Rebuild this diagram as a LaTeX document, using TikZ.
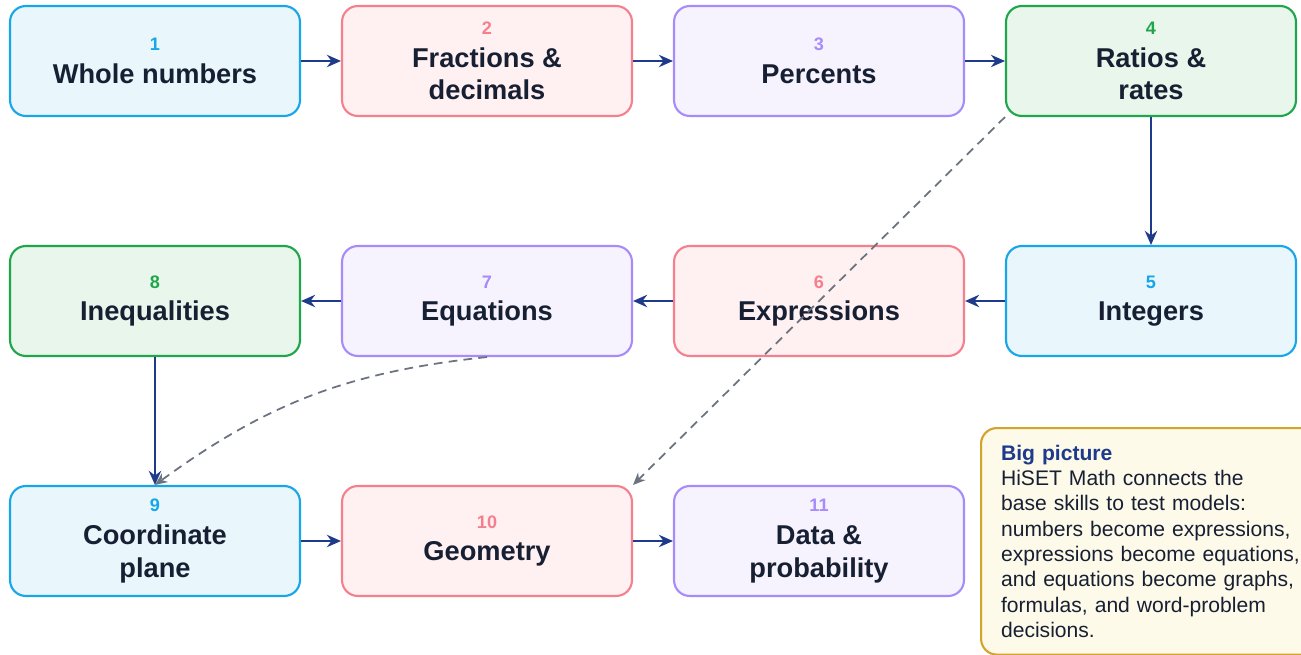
\documentclass[tikz,border=0pt]{standalone}
\usepackage{fontspec}
\setmainfont{Liberation Sans}
\usetikzlibrary{arrows.meta}
\definecolor{ink}{HTML}{172033}
\definecolor{navy}{HTML}{1E3A8A}
\definecolor{hintgray}{HTML}{6B7280}
\definecolor{skyline}{HTML}{17A6E8}
\definecolor{skyfill}{HTML}{E9F6FC}
\definecolor{roseline}{HTML}{F67F8D}
\definecolor{rosefill}{HTML}{FFF0F2}
\definecolor{violetline}{HTML}{A78BFA}
\definecolor{violetfill}{HTML}{F6F3FF}
\definecolor{greenline}{HTML}{1FA64B}
\definecolor{greenfill}{HTML}{E8F6EC}
\definecolor{goldline}{HTML}{D4A32A}
\definecolor{goldfill}{HTML}{FEFAEA}
\newcommand{\stepnum}[2]{\textcolor{#1line}{\fontsize{10.3}{12}\selectfont #2}}

\begin{document}
\begin{tikzpicture}[x=0.02cm, y=-0.02cm,
  box/.style={draw=#1line, fill=#1fill, line width=1.2pt, rounded corners=9pt,
    minimum width=5.8cm, minimum height=2.2cm, align=center, text=ink,
    font=\fontsize{15.5}{18.6}\selectfont\bfseries},
  flow/.style={draw=navy, line width=1.5pt, -{Stealth[length=8pt,width=7pt]}},
  sidelink/.style={draw=hintgray, line width=1pt, dash pattern=on 5pt off 3.5pt,
    -{Stealth[length=7pt,width=6pt]}},
  note/.style={draw=goldline, fill=goldfill, line width=1.2pt, rounded corners=9pt,
    align=left, text=ink, text width=6.3cm, inner xsep=0.4cm, inner ysep=0.34cm,
    font=\fontsize{12}{14.4}\selectfont}]
  \useasboundingbox (0,0) rectangle (1301,655);
  \clip (0,0) rectangle (1301,655);
  % row 1
  \node[box=sky]    (1) at (155,61)  {\stepnum{sky}{1}\\Whole numbers};
  \node[box=rose]   (2) at (487,61)  {\stepnum{rose}{2}\\Fractions \&\\decimals};
  \node[box=violet] (3) at (819,61)  {\stepnum{violet}{3}\\Percents};
  \node[box=green]  (4) at (1151,61) {\stepnum{green}{4}\\Ratios \&\\rates};
  % row 2
  \node[box=sky]    (5) at (1151,301) {\stepnum{sky}{5}\\Integers};
  \node[box=rose]   (6) at (819,301)  {\stepnum{rose}{6}\\Expressions};
  \node[box=violet] (7) at (487,301)  {\stepnum{violet}{7}\\Equations};
  \node[box=green]  (8) at (155,301)  {\stepnum{green}{8}\\Inequalities};
  % row 3
  \node[box=sky]    (9) at (155,541)  {\stepnum{sky}{9}\\Coordinate\\plane};
  \node[box=rose]   (10) at (487,541) {\stepnum{rose}{10}\\Geometry};
  \node[box=violet] (11) at (819,541) {\stepnum{violet}{11}\\Data \&\\probability};
  \node[note, anchor=north west] (12) at (980,427)
    {\textcolor{navy}{\bfseries Big picture}\\
     HiSET Math connects the\\
     base skills to test models:\\
     numbers become expressions,\\
     expressions become equations,\\
     and equations become graphs,\\
     formulas, and word-problem\\
     decisions.};
  \draw[flow] (1)--(2);
  \draw[flow] (2)--(3);
  \draw[flow] (3)--(4);
  \draw[flow] (4)--(5);
  \draw[flow] (5)--(6);
  \draw[flow] (6)--(7);
  \draw[flow] (7)--(8);
  \draw[flow] (8)--(9);
  \draw[flow] (9)--(10);
  \draw[flow] (10)--(11);
  \draw[sidelink] (7.south) to[bend right=15] (9.north);
  \draw[sidelink] (4.south west)--(10.north east);
\end{tikzpicture}
\end{document}
